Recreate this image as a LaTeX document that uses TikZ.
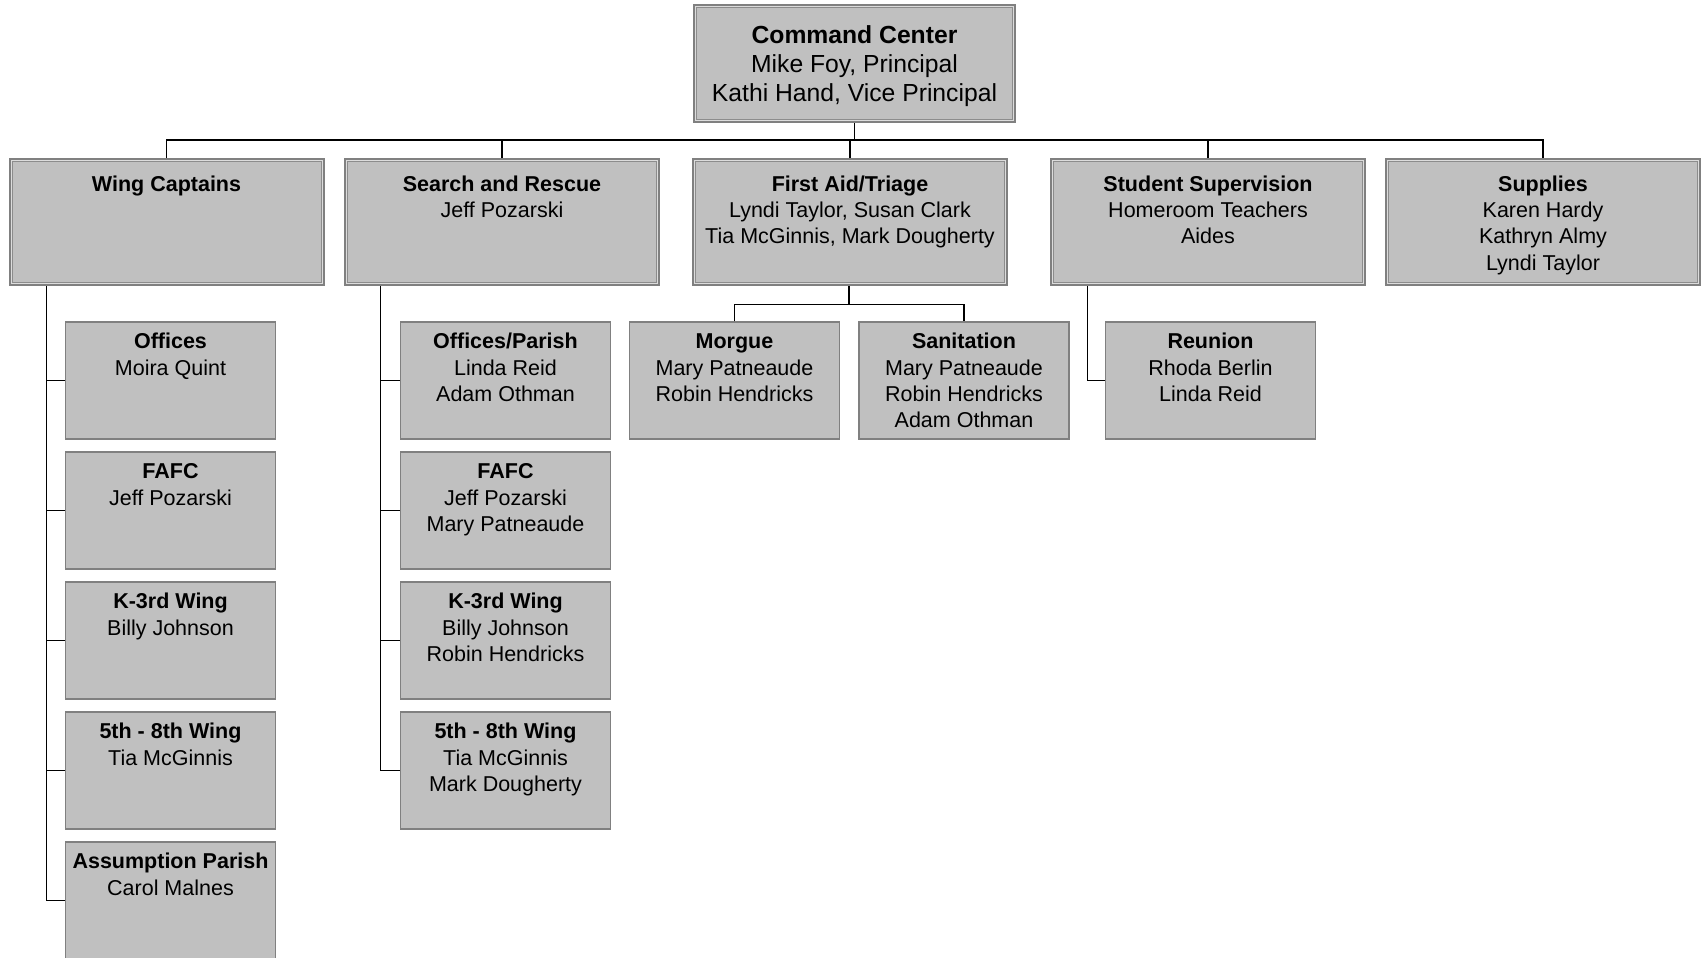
\documentclass[tikz,border=0pt]{standalone}
\usepackage{fontspec}
\setmainfont{Liberation Sans}
\definecolor{boxfill}{HTML}{C0C0C0}
\definecolor{boxline}{HTML}{808080}
\definecolor{boxlight}{HTML}{DCDCDC}
\definecolor{boxinner}{HTML}{8C8C8C}
\tikzset{
  dbox/.style={draw=boxline, line width=3pt, fill=boxfill, minimum width=313pt, minimum height=125pt, inner sep=0pt},
  topbox/.style={dbox, minimum width=320pt, minimum height=116pt},
  sbox/.style={draw=boxline, line width=1.2pt, fill=boxfill, minimum width=210pt, minimum height=117pt, inner sep=0pt},
  txt/.style={align=center, inner sep=0pt, anchor=north, font=\fontsize{21.5}{26.3}\selectfont},
  toptxt/.style={align=center, inner sep=0pt, anchor=north, font=\fontsize{24.7}{29}\selectfont},
  conn/.style={draw=black, line width=1.2pt},
  innerl/.style={draw=boxinner, line width=1pt},
  lightl/.style={draw=boxlight, line width=1pt}
}
\newcommand{\dborder}[1]{%
  \draw[lightl] ([shift={(2.5pt,-2.5pt)}]#1.north west) rectangle ([shift={(-2.5pt,2.5pt)}]#1.south east);
  \draw[innerl] ([shift={(3.5pt,-3.5pt)}]#1.north west) rectangle ([shift={(-3.5pt,3.5pt)}]#1.south east);}
\begin{document}
\begin{tikzpicture}[x=1pt,y=-1pt]
\useasboundingbox (0,0) rectangle (1701,958);
% top
\node[topbox] (CC) at (854.5,63.5) {};
\dborder{CC}
\node[toptxt] (tCC) at ([yshift=-18.8pt]CC.north) {\strut\textbf{Command Center}\\Mike Foy, Principal\\Kathi Hand, Vice Principal};
% second level
\node[dbox] (WC) at (166.5,222) {};
\node[dbox] (SR) at (502,222) {};
\node[dbox] (FA) at (850,222) {};
\node[dbox] (SS) at (1208,222) {};
\node[dbox] (SU) at (1543,222) {};
\foreach \n in {WC,SR,FA,SS,SU} {\dborder{\n}}
\node[txt] (tWC) at ([yshift=-14.6pt]WC.north) {\strut\textbf{Wing Captains}};
\node[txt] (tSR) at ([yshift=-14.6pt]SR.north) {\strut\textbf{Search and Rescue}\\Jeff Pozarski};
\node[txt] (tFA) at ([yshift=-14.6pt]FA.north) {\strut\textbf{First Aid/Triage}\\Lyndi Taylor, Susan Clark\\Tia McGinnis, Mark Dougherty};
\node[txt] (tSS) at ([yshift=-14.6pt]SS.north) {\strut\textbf{Student Supervision}\\Homeroom Teachers\\Aides};
\node[txt] (tSU) at ([yshift=-14.6pt]SU.north) {\strut\textbf{Supplies}\\Karen Hardy\\Kathryn Almy\\Lyndi Taylor};
% third level: wing captains
\node[sbox] (O1) at (170.5,380.5) {};
\node[sbox] (F1) at (170.5,510.5) {};
\node[sbox] (K1) at (170.5,640.5) {};
\node[sbox] (E1) at (170.5,770.5) {};
\node[sbox] (AP) at (170.5,900.5) {};
\node[txt] (tO1) at ([yshift=-8.8pt]O1.north) {\strut\textbf{Offices}\\Moira Quint};
\node[txt] (tF1) at ([yshift=-8.8pt]F1.north) {\strut\textbf{FAFC}\\Jeff Pozarski};
\node[txt] (tK1) at ([yshift=-8.8pt]K1.north) {\strut\textbf{K-3rd Wing}\\Billy Johnson};
\node[txt] (tE1) at ([yshift=-8.8pt]E1.north) {\strut\textbf{5th - 8th Wing}\\Tia McGinnis};
\node[txt] (tAP) at ([yshift=-8.8pt]AP.north) {\strut\textbf{Assumption Parish}\\Carol Malnes};
% third level: search and rescue
\node[sbox] (O2) at (505.5,380.5) {};
\node[sbox] (F2) at (505.5,510.5) {};
\node[sbox] (K2) at (505.5,640.5) {};
\node[sbox] (E2) at (505.5,770.5) {};
\node[txt] (tO2) at ([yshift=-8.8pt]O2.north) {\strut\textbf{Offices/Parish}\\Linda Reid\\Adam Othman};
\node[txt] (tF2) at ([yshift=-8.8pt]F2.north) {\strut\textbf{FAFC}\\Jeff Pozarski\\Mary Patneaude};
\node[txt] (tK2) at ([yshift=-8.8pt]K2.north) {\strut\textbf{K-3rd Wing}\\Billy Johnson\\Robin Hendricks};
\node[txt] (tE2) at ([yshift=-8.8pt]E2.north) {\strut\textbf{5th - 8th Wing}\\Tia McGinnis\\Mark Dougherty};
% third level: first aid
\node[sbox] (MO) at (734.5,380.5) {};
\node[sbox] (SA) at (964,380.5) {};
\node[txt] (tMO) at ([yshift=-8.8pt]MO.north) {\strut\textbf{Morgue}\\Mary Patneaude\\Robin Hendricks};
\node[txt] (tSA) at ([yshift=-8.8pt]SA.north) {\strut\textbf{Sanitation}\\Mary Patneaude\\Robin Hendricks\\Adam Othman};
% third level: student supervision
\node[sbox] (RU) at (1210.5,380.5) {};
\node[txt] (tRU) at ([yshift=-8.8pt]RU.north) {\strut\textbf{Reunion}\\Rhoda Berlin\\Linda Reid};
% connectors
\draw[conn] (CC.south) -- ++(0,17) coordinate (bar);
\draw[conn] (WC.north) |- (bar) -| (SU.north);
\foreach \n in {SR,FA,SS} {\draw[conn] (\n.north) -- (\n.north |- bar);}
\coordinate (wtr) at ([xshift=38pt]WC.south west);
\draw[conn] (wtr) |- (AP.west);
\foreach \n in {O1,F1,K1,E1} {\draw[conn] (\n.west) -- (\n.west -| wtr);}
\coordinate (str) at ([xshift=36.5pt]SR.south west);
\draw[conn] (str) |- (E2.west);
\foreach \n in {O2,F2,K2} {\draw[conn] (\n.west) -- (\n.west -| str);}
\draw[conn] ([xshift=-1pt]FA.south) -- ++(0,18.5) coordinate (fab);
\draw[conn] (MO.north) |- (fab) -| (SA.north);
\coordinate (sstr) at ([xshift=37.5pt]SS.south west);
\draw[conn] (sstr) |- (RU.west);
\end{tikzpicture}
\end{document}
